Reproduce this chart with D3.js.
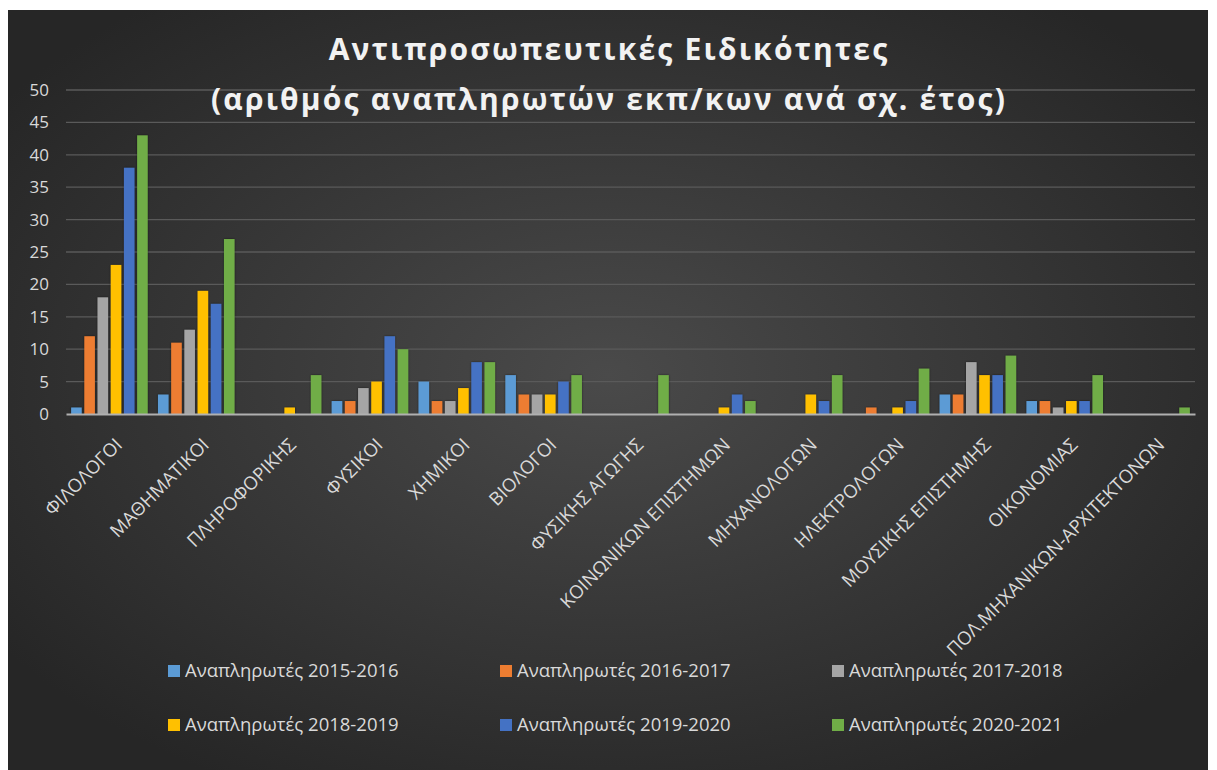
<!DOCTYPE html>
<html>
<head>
<meta charset="utf-8">
<script src="https://cdn.jsdelivr.net/npm/d3@7/dist/d3.min.js"></script>
<style>
  html, body { margin: 0; padding: 0; background: #ffffff; }
  svg { display: block; }
</style>
</head>
<body>
<svg id="chart" width="1217" height="770"></svg>
<script>
// Specialties (x categories)
const categories = [
  "ΦΙΛΟΛΟΓΟΙ", "ΜΑΘΗΜΑΤΙΚΟΙ", "ΠΛΗΡΟΦΟΡΙΚΗΣ", "ΦΥΣΙΚΟΙ", "ΧΗΜΙΚΟΙ", "ΒΙΟΛΟΓΟΙ",
  "ΦΥΣΙΚΗΣ ΑΓΩΓΗΣ", "ΚΟΙΝΩΝΙΚΩΝ ΕΠΙΣΤΗΜΩΝ", "ΜΗΧΑΝΟΛΟΓΩΝ", "ΗΛΕΚΤΡΟΛΟΓΩΝ",
  "ΜΟΥΣΙΚΗΣ ΕΠΙΣΤΗΜΗΣ", "ΟΙΚΟΝΟΜΙΑΣ", "ΠΟΛ.ΜΗΧΑΝΙΚΩΝ-ΑΡΧΙΤΕΚΤΟΝΩΝ"
];

// Series names (school years)
const seriesNames = [
  "Αναπληρωτές 2015-2016", "Αναπληρωτές 2016-2017", "Αναπληρωτές 2017-2018",
  "Αναπληρωτές 2018-2019", "Αναπληρωτές 2019-2020", "Αναπληρωτές 2020-2021"
];

// Number of substitute teachers per specialty, one array per school year
const y2015_2016 = [1, 3, 0, 2, 5, 6, 0, 0, 0, 0, 3, 2, 0];
const y2016_2017 = [12, 11, 0, 2, 2, 3, 0, 0, 0, 1, 3, 2, 0];
const y2017_2018 = [18, 13, 0, 4, 2, 3, 0, 0, 0, 0, 8, 1, 0];
const y2018_2019 = [23, 19, 1, 5, 4, 3, 0, 1, 3, 1, 6, 2, 0];
const y2019_2020 = [38, 17, 0, 12, 8, 5, 0, 3, 2, 2, 6, 2, 0];
const y2020_2021 = [43, 27, 6, 10, 8, 6, 6, 2, 6, 7, 9, 6, 1];

const seriesValues = [y2015_2016, y2016_2017, y2017_2018, y2018_2019, y2019_2020, y2020_2021];
const seriesColors = ["#5B9BD5", "#ED7D31", "#A5A5A5", "#FFC000", "#4472C4", "#70AD47"];

const yTicks = [0, 5, 10, 15, 20, 25, 30, 35, 40, 45, 50];

const titleLines = [
  "Αντιπροσωπευτικές Ειδικότητες",
  "(αριθμός αναπληρωτών εκπ/κων ανά σχ. έτος)"
];

const svg = d3.select("#chart");
const defs = svg.append("defs");

// Dark chart-area background with a lighter centre
const bg = defs.append("radialGradient")
  .attr("id", "bgGrad").attr("cx", "50%").attr("cy", "48%").attr("r", "62%");
bg.append("stop").attr("offset", "0%").attr("stop-color", "#4a4a4a");
bg.append("stop").attr("offset", "100%").attr("stop-color", "#262626");

const shadow = defs.append("filter").attr("id", "barShadow")
  .attr("x", "-30%").attr("y", "-10%").attr("width", "160%").attr("height", "120%");
shadow.append("feDropShadow").attr("dx", 0).attr("dy", 0)
  .attr("stdDeviation", 1.2).attr("flood-color", "#000").attr("flood-opacity", 0.55);

const panel = { x: 8, y: 10, w: 1200, h: 760 };
svg.append("rect")
  .attr("x", panel.x).attr("y", panel.y)
  .attr("width", panel.w).attr("height", panel.h)
  .attr("fill", "url(#bgGrad)");

const plot = { left: 66, right: 1195, top: 90, bottom: 414 };

const x0 = d3.scaleBand()
  .domain(categories)
  .range([plot.left, plot.right])
  .paddingInner(0.088)
  .paddingOuter(0.044);

const x1 = d3.scaleBand()
  .domain(d3.range(seriesNames.length))
  .range([0, x0.bandwidth()])
  .paddingInner(0.2)
  .paddingOuter(0.1);

const y = d3.scaleLinear().domain([0, 50]).range([plot.bottom, plot.top]);

// Horizontal gridlines
svg.append("g")
  .selectAll("line")
  .data(yTicks.filter(t => t > 0))
  .join("line")
  .attr("x1", plot.left).attr("x2", plot.right)
  .attr("y1", d => y(d)).attr("y2", d => y(d))
  .attr("stroke", "#5a5a5a").attr("stroke-width", 1.3);

// Y axis tick labels
const yAxis = svg.append("g")
  .attr("transform", `translate(${plot.left - 17},0)`)
  .call(d3.axisLeft(y).tickValues(yTicks).tickSize(0).tickPadding(0));
yAxis.select(".domain").remove();
yAxis.selectAll("text")
  .attr("fill", "#d9d9d9")
  .attr("font-family", "'Open Sans', sans-serif")
  .attr("font-size", 17);

// Bars
const groups = svg.append("g")
  .selectAll("g")
  .data(categories)
  .join("g")
  .attr("transform", d => `translate(${x0(d)},0)`);

groups.selectAll("rect")
  .data((c, ci) => seriesValues.map((vals, si) => ({ si, v: vals[ci] })))
  .join("rect")
  .filter(d => d.v > 0)
  .attr("x", d => x1(d.si))
  .attr("width", x1.bandwidth())
  .attr("y", d => y(d.v))
  .attr("height", d => y(0) - y(d.v))
  .attr("fill", d => seriesColors[d.si])
  .attr("filter", "url(#barShadow)");

// X axis line and rotated category labels
const xAxis = svg.append("g")
  .attr("transform", `translate(0,${plot.bottom})`)
  .call(d3.axisBottom(x0).tickSize(0).tickPadding(0));
xAxis.select(".domain")
  .attr("stroke", "#b0b0b0").attr("stroke-width", 2);
xAxis.selectAll(".tick text")
  .attr("fill", "#d9d9d9")
  .attr("font-family", "'Open Sans', sans-serif")
  .attr("font-size", 18.5)
  .attr("text-anchor", "end")
  .attr("y", 0)
  .attr("dy", 0)
  .attr("transform", "translate(14,32) rotate(-45)");

// Title
svg.append("g")
  .selectAll("text")
  .data(titleLines)
  .join("text")
  .attr("x", 609)
  .attr("y", (d, i) => 60 + i * 50)
  .attr("text-anchor", "middle")
  .attr("fill", "#f2f2f2")
  .attr("font-family", "'Open Sans', sans-serif")
  .attr("font-weight", 700)
  .attr("font-size", 30)
  .attr("letter-spacing", 2.2)
  .text(d => d);

// Legend: two rows of three
const legend = svg.append("g")
  .selectAll("g")
  .data(seriesNames)
  .join("g")
  .attr("transform", (d, i) => `translate(${168 + (i % 3) * 332},${671 + Math.floor(i / 3) * 54})`);
legend.append("rect")
  .attr("x", 0).attr("y", -6)
  .attr("width", 12).attr("height", 12)
  .attr("fill", (d, i) => seriesColors[i]);
legend.append("text")
  .attr("x", 17).attr("y", 0)
  .attr("dy", "0.35em")
  .attr("fill", "#d9d9d9")
  .attr("font-family", "'Open Sans', sans-serif")
  .attr("font-size", 18.5)
  .text(d => d);
</script>
</body>
</html>
